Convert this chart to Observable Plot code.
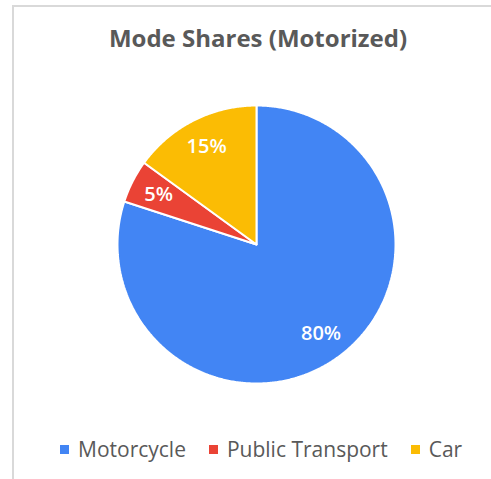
<!DOCTYPE html>
<html><head><meta charset="utf-8">
<script src="https://cdn.jsdelivr.net/npm/d3@7"></script>
<script src="https://cdn.jsdelivr.net/npm/@observablehq/plot@0.6"></script>
<style>
body{margin:0;background:#fff;font-family:"Open Sans",sans-serif;}
#frame{position:absolute;left:12px;top:5px;width:479px;height:474px;border-left:2px solid #d9d9d9;border-top:2px solid #d9d9d9;box-sizing:border-box}
#title{position:absolute;left:25px;width:466px;top:26px;text-align:center;font-size:24px;line-height:1;font-weight:700;color:#595959}
#chart{position:absolute;left:0;top:80px}
#legend{position:absolute;left:60px;top:439px}
div.lg-swatches{margin:0 !important;line-height:1 !important}
div.lg-swatches-wrap{min-height:0 !important}
span.lg-swatch{margin-right:23px !important}
span.lg-swatch > svg{margin-right:9px !important}
</style></head><body>
<div id="frame"></div>
<div id="title">Mode Shares (Motorized)</div>
<div id="chart"></div>
<div id="legend"></div>
<script>
const modes = ["Motorcycle", "Public Transport", "Car"];
const shares = [80, 5, 15];
const colors = ["#4285F4", "#EA4335", "#FBBC04"];

const pie = d3.pie().sort(null).value(d => d.share)(modes.map((m, i) => ({mode: m, share: shares[i]})));
const pts = [];
for (const a of pie) {
  const m = a.data.mode;
  pts.push({mode: m, x: 0, y: 0});
  const n = Math.max(2, Math.ceil((a.endAngle - a.startAngle) / (Math.PI / 360)));
  for (let k = 0; k <= n; k++) {
    const t = a.startAngle + (a.endAngle - a.startAngle) * k / n;
    pts.push({mode: m, x: Math.sin(t), y: Math.cos(t)});
  }
  pts.push({mode: m, x: 0, y: 0});
}
const labels = pie.map(a => {
  const t = (a.startAngle + a.endAngle) / 2;
  return {x: 0.79 * Math.sin(t), y: 0.79 * Math.cos(t), text: a.data.share + "%"};
});

const chart = Plot.plot({
  width: 491, height: 340,
  marginLeft: 117, marginRight: 96, marginTop: 25, marginBottom: 37,
  x: {domain: [-1, 1], axis: null},
  y: {domain: [-1, 1], axis: null},
  color: {domain: modes, range: colors},
  style: {fontFamily: "Open Sans", background: "transparent"},
  marks: [
    Plot.line(pts, {x: "x", y: "y", z: "mode", fill: "mode", stroke: "white", strokeWidth: 2, strokeLinejoin: "miter"}),
    Plot.text(labels, {x: "x", y: "y", text: "text", fill: "white", fontSize: 20, fontWeight: 600})
  ]
});
document.getElementById("chart").append(chart);

const legend = Plot.legend({
  color: {domain: modes, range: colors},
  legend: "swatches",
  swatchSize: 9,
  className: "lg",
  style: {fontSize: "21px", fontFamily: "Open Sans", color: "#595959"}
});
document.getElementById("legend").append(legend);
</script>
</body></html>
